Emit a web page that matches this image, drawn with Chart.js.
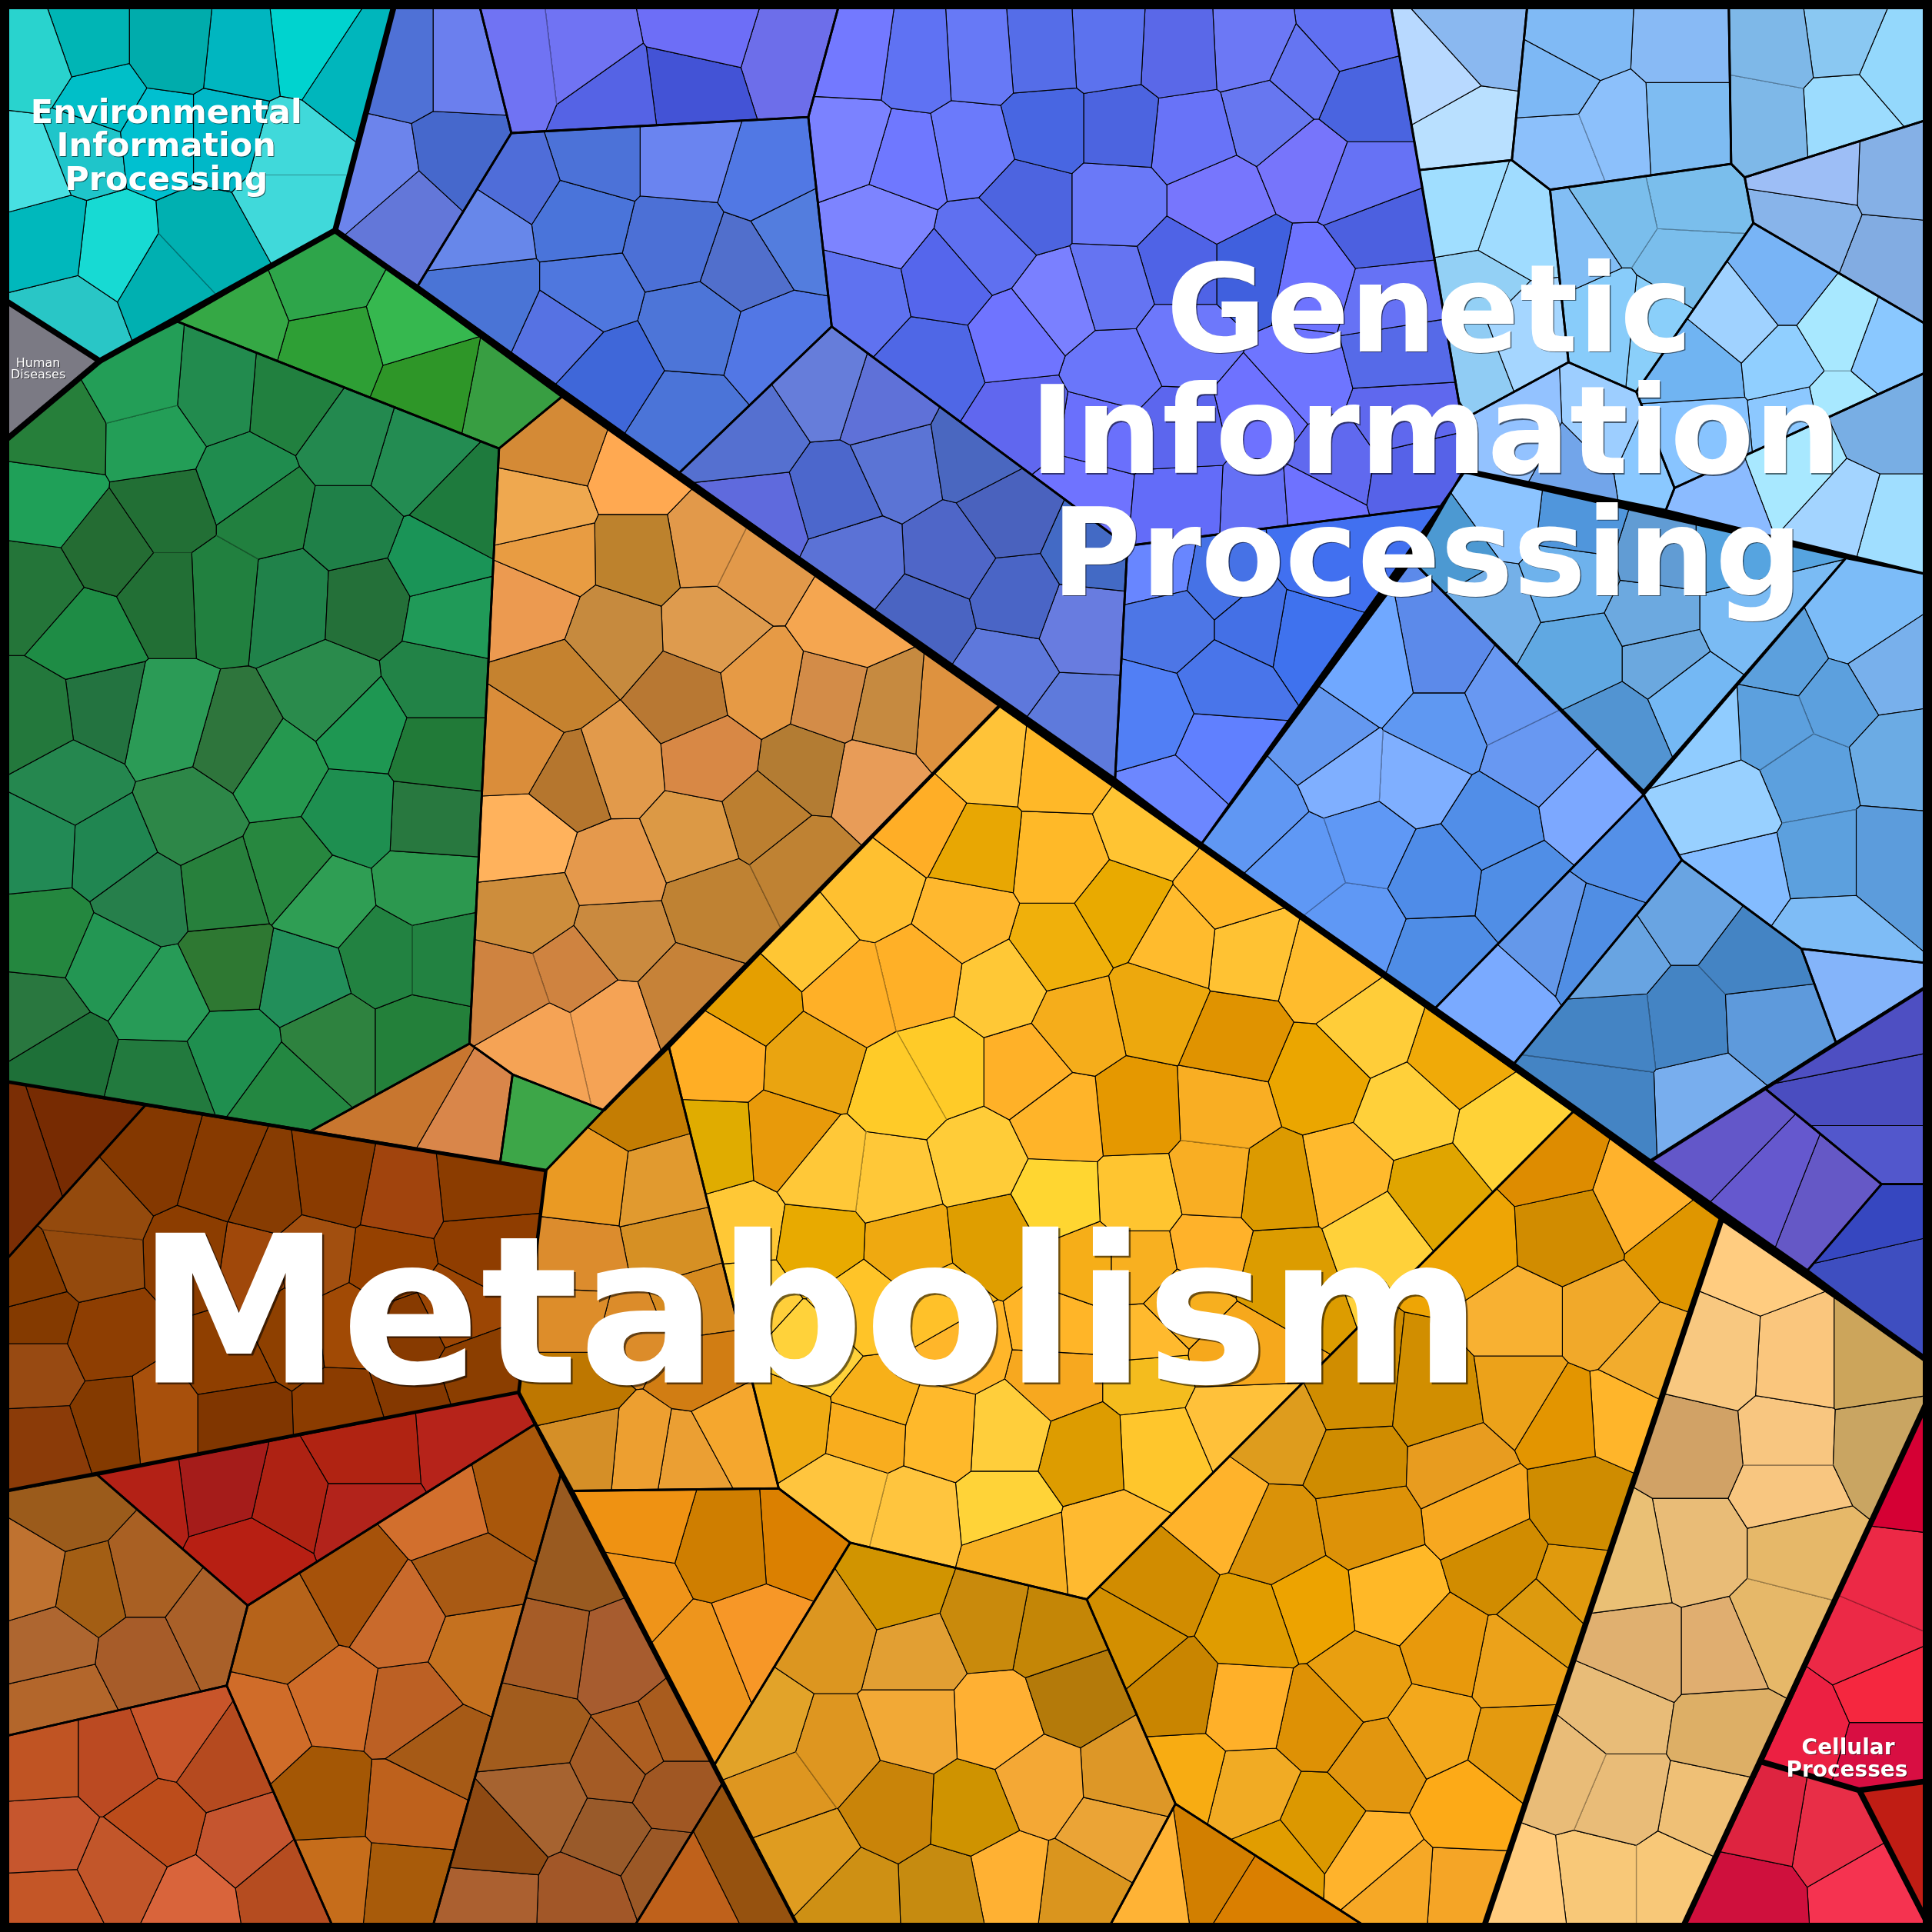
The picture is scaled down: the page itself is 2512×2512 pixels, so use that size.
<!DOCTYPE html>
<html>
<head>
<meta charset="utf-8">
<title>Voronoi treemap</title>
<script src="https://cdn.jsdelivr.net/npm/chart.js@4"></script>
<style>
  html, body { margin: 0; padding: 0; background: #000; }
  canvas { display: block; }
</style>
</head>
<body>
<canvas id="chart" width="2512" height="2512"></canvas>
<script>
// Values, on a 0..1568 axis. Each group has an outline,
// the centre of each of its cells, and one colour per cell.
const envOutline = [[0,0],[321,0],[272,187],[81,293],[0,241]]
const envSeeds = [[33,50],[70,37],[140,37],[197,43],[249,37],[284,60],[80,80],[130,110],[184,110],[234,124],[234,160],[23,134],[67,117],[40,197],[92,203],[167,197],[134,228],[55,258]]
const envColors = ['#29d3ce','#00b5b5','#00acac','#00b6c0','#00d3cf','#00b6bc','#00bfc8','#00c0d0','#00b8c8','#40d9da','#40d9da','#48e0e2','#1fc5ca','#00b8bc','#17dad3','#00b0b1','#00b0b1','#29c6c6']

const humanOutline = [[0,241],[81,293],[0,361]]
const humanSeeds = [[30,300]]
const humanColors = ['#7b7a84']

const green1Outline = [[272,187],[456,322],[405,364],[144,261]]
const green1Seeds = [[190,257],[264,227],[274,281],[334,264],[348,311],[415,324]]
const green1Colors = ['#35a845','#2ea54a','#2e9f35','#36b84f','#2e9628','#389e42']

const green2Outline = [[81,293],[144,261],[405,364],[381,847],[252,918],[0,877],[0,361]]
const green2Seeds = [[115,315],[125,355],[175,320],[235,325],[47,354],[284,360],[334,375],[375,415],[40,405],[134,415],[90,445],[134,482],[200,391],[217,415],[284,428],[354,455],[365,500],[297,488],[180,480],[234,485],[30,480],[70,515],[30,584],[84,577],[134,587],[194,604],[267,564],[294,591],[354,554],[354,611],[224,624],[288,661],[348,664],[57,634],[154,664],[30,688],[90,691],[37,758],[117,728],[181,721],[234,705],[264,731],[344,721],[90,781],[30,825],[132,811],[187,785],[244,795],[314,775],[355,775],[50,858],[130,878],[190,855],[268,845],[341,845],[231,885]]
const green2Colors = ['#239e57','#239e57','#228b4e','#21803f','#267f3a','#23894f','#238c52','#1e7a3d','#1fa058','#226f35','#246c33','#226f35','#1f8c4e','#21803f','#1f8048','#1a9457','#209a58','#247039','#21803f','#20824a','#247539','#1e8c45','#23783c','#237340','#2b9b56','#2e753c','#2a8b4c','#1e9752','#228347','#217a38','#25984f','#1e8f50','#28783f','#25874f','#2d8748','#228a55','#208651','#24873f','#267f4b','#27803c','#27873f','#2f9e54','#2c984f','#239653','#29773f','#279b57','#2e7832','#228f5a','#228241','#228241','#1e7038','#227a3e','#1f8f4f','#2e823f','#23803a','#238741']

const orange1Outline = [[456,322],[811,573],[490,901],[416,872],[381,847],[405,364]]
const orange1Seeds = [[451,361],[518,385],[440,415],[448,451],[518,450],[431,491],[497,515],[575,440],[615,460],[578,512],[690,505],[618,557],[557,567],[674,567],[721,577],[771,581],[451,557],[421,604],[468,631],[498,621],[577,614],[654,624],[708,634],[425,685],[499,708],[564,681],[621,664],[648,698],[581,731],[431,738],[502,758],[557,811],[415,805],[465,788],[438,845],[495,832]]
const orange1Colors = ['#d48a36','#ffa951','#efa84f','#e89c42','#bd822d','#ec9a50','#c68a3e','#e2994a','#e2994a','#de9b4e','#f5a650','#e69a45','#b87833','#d38c48','#c68a40','#de923f','#c5822f','#da8d3a','#b5762e','#e29a4b','#d88845','#b37c33','#e89c58','#ffb25c','#e5994c','#dc9945','#bc7f30','#bf8233','#bf8233','#cd8d3c','#ca8a3f','#c68238','#cf8340','#cf8340','#f5a355','#f5a355']

const orange2Outline = [[252,918],[381,847],[416,872],[406,943]]
const orange2Seeds = [[335,877],[387,907]]
const orange2Colors = ['#c8762f','#d9864a']

const green3Outline = [[416,872],[490,901],[443,950],[406,943]]
const green3Seeds = [[445,915]]
const green3Colors = ['#3da648']

const wedgeOutline = [[0,877],[118,897],[0,1028]]
const wedgeSeeds = [[12,935],[60,919]]
const wedgeColors = ['#7b2e05','#772b02']

const brownOutline = [[118,897],[443,950],[421,1130],[0,1211],[0,1028]]
const brownSeeds = [[124,939],[181,955],[214,969],[271,962],[324,972],[391,965],[395,1012],[77,982],[73,1022],[23,1042],[30,1069],[87,1085],[30,1112],[33,1172],[94,1152],[127,1149],[194,1149],[187,1105],[281,1146],[334,1129],[385,1112],[160,1019],[257,1019],[314,1026],[200,1025],[234,1082],[334,1082],[284,1075],[368,1065]]
const brownColors = ['#843800','#873a00','#873c02','#8a3b00','#a1440d','#8b3c00','#8f3d00','#944a0d','#944a0d','#853b00','#843a00','#8e3e02','#984a12','#8b3b08','#843a00','#a8500c','#803600','#8f3f00','#8b3c00','#843800','#8b3e00','#8c3d00','#a24f0f','#964100','#a0480a','#8e4000','#873a00','#a14a05','#9c4604']

const redOutline = [[79,1197],[420,1130],[434,1156],[201,1303]]
const redSeeds = [[110,1216],[187,1206],[231,1216],[204,1263],[294,1179],[294,1229],[385,1172]]
const redColors = ['#b32116','#a51c1a','#ae2213','#b71f13','#b02312','#b2231b','#b6231a']

const tanBrownOutline = [[0,1211],[79,1197],[201,1303],[184,1368],[0,1410]]
const tanBrownSeeds = [[57,1223],[23,1280],[74,1289],[117,1279],[171,1320],[40,1336],[117,1346],[50,1380]]
const tanBrownColors = ['#9b5b1b','#bf7230','#a35e14','#a96023','#a96029','#ae6630','#a75c29','#b3662b']

const rustOutline = [[0,1410],[184,1368],[272,1568],[0,1568]]
const rustSeeds = [[33,1430],[94,1430],[144,1410],[177,1433],[129,1480],[37,1490],[197,1497],[100,1517],[40,1547],[157,1544],[227,1533]]
const rustColors = ['#c05423','#bb4a22','#c8552a','#b54a1f','#bc4c1b','#c6562e','#c5552f','#c2562a','#c45627','#d9643b','#b54c20']

const copperOutline = [[201,1303],[434,1156],[455,1197],[350,1568],[272,1568],[184,1368]]
const copperSeeds = [[364,1229],[418,1216],[291,1293],[381,1276],[231,1326],[321,1313],[391,1340],[214,1403],[272,1380],[331,1390],[354,1423],[264,1457],[334,1463],[268,1527],[328,1533]]
const copperColors = ['#d26f2d','#a9570b','#a6520a','#a95a14','#b6631a','#c96a2c','#c5711f','#d06c29','#cf6c29','#bc6024','#a65a16','#a45705','#be611c','#c66d1b','#a85b0a']

const umberOutline = [[455,1197],[586,1448],[512,1568],[350,1568]]
const umberSeeds = [[465,1263],[448,1343],[498,1350],[435,1403],[518,1417],[441,1463],[401,1500],[501,1433],[495,1490],[544,1453],[544,1406],[537,1517],[398,1537],[475,1540]]
const umberColors = ['#995a20','#a65c27','#a75c2f','#a25c1d','#ad5e21','#a66330','#8f4a13','#a45b25','#995a2a','#a05723','#a95c1e','#9b5826','#ab6030','#a25728']

const cornerOutline = [[586,1448],[650,1568],[512,1568]]
const cornerSeeds = [[559,1534],[603,1512]]
const cornerColors = ['#bf611b','#96520f']

const amberOutline = [[543,850],[490,901],[443,950],[421,1130],[465,1210],[632,1208]]
const amberSeeds = [[515,895],[478,958],[535,965],[470,1025],[545,1010],[468,1069],[468,1126],[478,1172],[521,1176],[567,1109],[594,1162],[557,1182],[510,1080],[560,1060]]
const amberColors = ['#c47d03','#ea9a23','#e19a2f','#dc8c2d','#d69024','#dd8d2a','#be7700','#d58f27','#ed9f30','#d17d13','#f5a72e','#eb9f33','#dc8c2a','#d68a1f']

const yellowOutline = [[543,850],[811,573],[1277,902],[882,1298],[690,1252],[632,1208]]
const yellowSeeds = [[798,614],[862,621],[932,671],[748,668],[792,691],[859,698],[909,738],[999,725],[956,765],[708,721],[782,745],[859,768],[655,765],[691,805],[745,792],[812,802],[875,832],[939,818],[1013,771],[1002,845],[611,812],[584,858],[658,862],[735,885],[765,868],[832,868],[862,908],[922,902],[992,899],[985,959],[581,929],[638,925],[671,952],[725,959],[792,942],[859,975],[925,972],[805,1005],[1036,965],[665,1009],[601,999],[738,1012],[982,1015],[925,1026],[879,1026],[1079,788],[1112,835],[1182,858],[1072,875],[1142,902],[1223,919],[1092,955],[1162,969],[1119,1002],[1040,1030],[960,1060],[605,1050],[700,1060],[760,1060],[660,1100],[710,1140],[780,1095],[860,1080],[930,1090],[1000,1100],[641,1149],[705,1156],[765,1159],[815,1162],[882,1179],[939,1176],[932,1115],[858,1115],[1002,1149],[685,1219],[741,1233],[815,1226],[825,1256],[902,1250]]
const yellowColors = ['#ffc338','#ffb828','#ffc433','#ffae26','#e8a703','#ffb928','#e9aa00','#ffb728','#ffbb2d','#ffc030','#ffb82f','#f0b00b','#ffc634','#ffb027','#ffb027','#ffc836','#f5ad1b','#eda80d','#ffc233','#e09300','#e59f00','#ffae25','#eaa410','#ffcb28','#ffcb28','#ffb128','#ffb429','#e59800','#f9ae23','#f9ae23','#e0ac00','#e89a0a','#ffc838','#ffc838','#ffcc38','#ffd631','#ffc530','#df9e00','#dc9a00','#e8aa00','#ffc836','#efa910','#ffb22a','#f8b020','#f6ae18','#ffbc2d','#ffcd39','#f0aa08','#eba600','#ffd03a','#ffd237','#ffba2d','#e0a500','#ffd13a','#dc9c00','#f7af1f','#ffcf3a','#ffc428','#ffc129','#ffd23a','#f7b019','#ffb62a','#ffb528','#ffba2e','#f6a81c','#efab12','#f9ad1e','#ffb92b','#ffce3b','#dd9c00','#ffc62c','#f4bc1e','#f7a81f','#ffc13a','#ffc53e','#ffc53e','#ffd338','#f7b023','#ffba30']

const goldOutline = [[882,1298],[1277,902],[1397,990],[1203,1568],[1115,1568],[954,1464]]
const goldSeeds = [[1256,942],[1336,969],[1269,1002],[1370,1012],[1192,1006],[1236,1072],[1300,1072],[1336,1105],[1236,1129],[1269,1149],[1316,1146],[1166,1139],[1099,1132],[1182,1189],[1102,1186],[1283,1222],[1109,1236],[1199,1226],[1219,1269],[1276,1289],[1040,1160],[942,1289],[992,1229],[1036,1249],[919,1330],[1016,1320],[955,1373],[1012,1383],[959,1443],[1016,1457],[1036,1507],[1065,1303],[1129,1296],[1176,1340],[1256,1310],[1226,1350],[1106,1363],[1162,1403],[1229,1420],[1072,1396],[1119,1430],[1192,1467],[1069,1480],[1115,1510],[1132,1530],[1189,1534]]
const goldColors = ['#de8c00','#ffb22c','#d18c00','#df9600','#eea505','#f8b132','#f1a92a','#f2ac2d','#eca21a','#e39500','#ffb52a','#d18e00','#d08d00','#e89c1f','#cf8c00','#cf8c00','#dd9208','#f7a820','#d18c00','#e09a0d','#de9c1d','#d18c00','#ffb32b','#da9208','#d38f00','#e09c00','#c98500','#ffb029','#f8ac12','#f1ab24','#e19d00','#eda300','#ffb827','#e8990c','#dd9a0e','#eca21a','#e99f10','#f3a81c','#e49a0f','#de9105','#e2960f','#fdaa17','#dc9800','#ffb32c','#f6a826','#f5a526']

const flameOutline = [[954,1464],[1115,1568],[898,1568]]
const flameSeeds = [[939,1530],[982,1524],[1019,1547]]
const flameColors = ['#ffb335','#d27f00','#da7f00']

const ochreOutline = [[690,1252],[882,1298],[954,1464],[898,1568],[650,1568],[580,1432]]
const ochreSeeds = [[728,1290],[802,1316],[855,1326],[675,1326],[742,1343],[872,1376],[742,1400],[809,1397],[621,1406],[675,1423],[638,1450],[725,1467],[788,1470],[845,1447],[912,1443],[902,1487],[658,1507],[692,1540],[768,1537],[818,1527],[875,1534]]
const ochreColors = ['#d19400','#c98a0c','#c48606','#dc9620','#e29f33','#b47a0a','#f2a936','#ffb033','#e2a329','#de9620','#de9620','#c98409','#cf9300','#f4a835','#dd9727','#eba436','#df9c20','#ce9014','#c68b10','#ffb133','#da951e']

const tangerineOutline = [[465,1210],[632,1208],[690,1252],[580,1432]]
const tangerineSeeds = [[520,1232],[591,1253],[648,1249],[510,1295],[618,1330],[568,1350]]
const tangerineColors = ['#ef9212','#cf7e00','#db8000','#ef9419','#f79727','#ee951c']

const sandOutline = [[1397,990],[1568,1107],[1568,1129],[1364,1568],[1203,1568]]
const sandSeeds = [[1427,1019],[1393,1102],[1460,1106],[1517,1106],[1376,1176],[1527,1172],[1450,1169],[1450,1209],[1323,1266],[1376,1256],[1460,1256],[1443,1323],[1333,1343],[1396,1343],[1400,1403],[1313,1390],[1273,1440],[1313,1457],[1386,1470],[1239,1534],[1296,1527],[1360,1527]]
const sandColors = ['#ffcc80','#f8c880','#fac67d','#cca55b','#d1a266','#c9a562','#f8c680','#f8c680','#eac075','#e9bc77','#e6b869','#e6b869','#e0b070','#e0ae70','#ddaf66','#e8bc78','#e9bc78','#e9bc78','#efc076','#ffcc7e','#f8c878','#f8c878']

const cell1Outline = [[1568,1129],[1568,1445],[1509,1453],[1430,1430]]
const cell1Seeds = [[1544,1199],[1534,1283],[1513,1333],[1530,1373],[1463,1403],[1530,1423]]
const cell1Colors = ['#d50034','#ec2946','#ec2946','#f5273f','#ec2042','#d80e42']

const cell2Outline = [[1430,1430],[1509,1453],[1568,1568],[1364,1568]]
const cell2Seeds = [[1430,1477],[1490,1487],[1417,1540],[1517,1534]]
const cell2Colors = ['#de2440','#e82e47','#cf103d','#f53350']

const cell3Outline = [[1509,1453],[1568,1445],[1568,1568]]
const cell3Seeds = [[1535,1500]]
const cell3Colors = ['#c01d14']

const slateOutline = [[321,0],[388,0],[415,108],[339,232],[272,187]]
const slateSeeds = [[328,53],[375,53],[371,130],[308,140],[334,170]]
const slateColors = ['#4f71d6','#6b7fee','#4668cc','#6c84ec','#6377d9']

const violetOutline = [[388,0],[682,0],[656,95],[415,108]]
const violetSeeds = [[422,48],[472,42],[499,80],[571,22],[560,72],[645,45]]
const violetColors = ['#7073f3','#7073f3','#5563e5','#6d6ef7','#4353d6','#6d6eea']

const royalOutline = [[415,108],[656,95],[675,265],[551,384],[339,232]]
const royalSeeds = [[421,147],[482,127],[395,187],[468,177],[475,241],[401,241],[458,267],[557,127],[624,147],[551,197],[601,214],[644,187],[495,301],[564,264],[628,281],[558,341]]
const royalColors = ['#4f6dd9','#4c72d8','#6787ea','#4a74da','#4f77de','#4a74d6','#5672e3','#6a84f0','#5178e4','#4c70d6','#516fcc','#537dde','#3f67d9','#4d75d8','#5277e5','#4b74d8']

const purpleOutline = [[682,0],[1128,0],[1184,326],[1190,381],[1169,411],[915,443],[675,265],[656,95]]
const purpleSeeds = [[695,43],[745,50],[795,47],[845,43],[899,40],[956,43],[1016,40],[1092,30],[1059,60],[1105,80],[691,117],[735,130],[788,120],[850,104],[909,104],[966,110],[1029,94],[1062,134],[1105,150],[715,184],[798,201],[835,164],[905,164],[989,164],[1119,187],[768,227],[701,241],[859,247],[902,234],[959,217],[1016,217],[825,274],[758,294],[905,301],[832,341],[959,277],[1065,227],[1125,244],[1132,288],[1055,308],[1135,338],[1146,385],[1082,375],[1065,408],[892,351],[956,351],[1026,334],[959,408],[879,401],[1023,411]]
const purpleColors = ['#7379ff','#5f72f3','#6779f6','#556de8','#5c72ee','#5a68e8','#6c78f5','#6070f2','#6575f2','#4a64e0','#7b82ff','#6f78ff','#6b7afb','#4866e2','#4c64e0','#6873f8','#6777f0','#7775fb','#6672f5','#7d84ff','#5f70f0','#4d64e0','#6a79f8','#7776fd','#4c60e0','#5566ec','#5f72f0','#7a80ff','#6574f2','#4f63e6','#4060de','#6f74ff','#4f67e6','#6a76fa','#6067ef','#6d78fb','#6e74ff','#6672f5','#566ae8','#6e75ff','#5f68ee','#5662e8','#6069ef','#6e72ff','#6a70fc','#5c66ee','#6e72ff','#636cf9','#6f73ff','#6570f5']

const steelOutline = [[551,384],[675,265],[915,443],[905,632]]
const steelSeeds = [[671,314],[715,328],[611,354],[792,368],[728,378],[618,418],[678,401],[818,418],[695,455],[772,451],[825,485],[885,448],[752,502],[815,544],[879,505],[875,588]]
const steelColors = ['#667dda','#5f71d8','#5570d0','#4a67c0','#5b74d5','#5f6add','#4c67cc','#4a62be','#5b72d6','#4f66c8','#4a65c6','#436ac5','#4a64c2','#5e78dc','#687ce0','#5e7adc']

const azureOutline = [[915,443],[1169,411],[975,685],[905,632]]
const azureSeeds = [[932,581],[996,554],[992,608],[952,651],[952,505],[1019,505],[1075,458],[1059,512],[990,470],[942,461]]
const azureColors = ['#517ff5','#4975ea','#6080ff','#6c87ff','#4d76e6','#4470e6','#4170f0','#3f72ee','#4672e6','#6886ff']

const skyAOutline = [[1128,0],[1240,0],[1227,130],[1152,138]]
const skyASeeds = [[1166,63],[1199,33],[1189,104]]
const skyAColors = ['#b8d9ff','#8ab8f0','#b9e0ff']

const skyBOutline = [[1240,0],[1403,0],[1405,133],[1258,154],[1227,130]]
const skyBSeeds = [[1263,70],[1283,33],[1366,37],[1309,100],[1266,117],[1366,97]]
const skyBColors = ['#7db8f5','#80baf5','#88baf5','#8cc0fb','#8cc0fb','#7ebcf2']

const skyCOutline = [[1403,0],[1568,0],[1568,96],[1416,144],[1405,133]]
const skyCSeeds = [[1443,40],[1433,94],[1493,33],[1540,53],[1497,90]]
const skyCColors = ['#7eb8e8','#7eb8e8','#8ac8f2','#94d8fc','#9cdcfe']

const skyDOutline = [[1416,144],[1568,96],[1568,266],[1423,181]]
const skyDSeeds = [[1470,137],[1547,140],[1463,184],[1540,214]]
const skyDColors = ['#9dbef6','#85b0e6','#88b4ea','#82ace2']

const skyEOutline = [[1152,138],[1227,130],[1258,154],[1273,294],[1192,338],[1184,326]]
const skyESeeds = [[1189,174],[1226,187],[1199,234],[1236,271],[1192,288]]
const skyEColors = ['#a0deff','#a0dcff','#93d0f5','#a5d6ff','#90ccf4']

const skyFOutline = [[1258,154],[1405,133],[1416,144],[1423,181],[1328,318],[1273,294]]
const skyFSeeds = [[1279,194],[1309,174],[1373,160],[1370,214],[1309,261],[1340,264]]
const skyFColors = ['#82bef5','#7abeec','#7abeec','#7abeec','#88ccfa','#8acffa']

const skyGOutline = [[1423,181],[1568,266],[1568,300],[1359,396],[1328,318]]
const skyGSeeds = [[1447,234],[1490,268],[1413,261],[1533,284],[1447,294],[1380,301],[1383,348],[1457,341],[1490,334]]
const skyGColors = ['#78b4f6','#a8e8ff','#a0d2ff','#8ac8ff','#90cfff','#70b4f2','#88c4ff','#8cc8ff','#a8e8ff']

const skyHOutline = [[1190,381],[1192,338],[1273,294],[1328,318],[1359,396],[1352,414]]
const skyHSeeds = [[1233,354],[1303,351],[1276,378],[1340,368]]
const skyHColors = ['#93c2ff','#9dceff','#72a5ea','#8ac8ff']

const skyIOutline = [[1359,396],[1568,300],[1568,467],[1352,414]]
const skyISeeds = [[1393,401],[1453,378],[1533,341],[1497,418],[1533,428]]
const skyIColors = ['#8bbbff','#a8e8ff','#78aee4','#a3d4ff','#a0deff']

const oceanOutline = [[1187,383],[1498,453],[1334,642],[1146,455]]
const oceanSeeds = [[1182,445],[1219,418],[1279,425],[1350,448],[1403,448],[1273,468],[1209,492],[1343,502],[1416,502],[1283,534],[1310,591],[1350,534],[1373,564]]
const oceanColors = ['#4c99d2','#8cc4ff','#5096dc','#619cd4','#56a4e0','#6eb2ec','#74b0e8','#6ca9e0','#7abbf4','#60a8e2','#5294d2','#6ba8df','#74b8f4']

const cobaltOutline = [[1146,455],[1334,645],[1165,818],[975,685]]
const cobaltSeeds = [[1116,544],[1075,604],[1092,628],[1149,631],[1169,591],[1223,568],[1246,615],[1289,658],[1212,671],[1166,711],[1236,721],[1109,684],[1059,701],[1099,752],[1169,778],[1020,660],[1169,534]]
const cobaltColors = ['#70a8ff','#6498f0','#7fafff','#7fafff','#5f98f2','#6898f2','#6898f2','#7ca8ff','#518ee8','#4f8ce8','#508ee6','#5f98f5','#5f98f5','#5f98f5','#4f8de6','#6097f3','#5c8aea']

const stripOutline = [[1334,645],[1365,698],[1229,863],[1165,818]]
const stripSeeds = [[1316,681],[1263,755],[1289,762],[1209,815]]
const stripColors = ['#5490e8','#6498ea','#508ee4','#7aaaff']

const deepOutline = [[1365,698],[1462,770],[1490,846],[1340,942],[1229,863]]
const deepSeeds = [[1370,735],[1306,778],[1427,778],[1433,829],[1310,839],[1370,832],[1303,892],[1383,889]]
const deepColors = ['#69a4e2','#68a4e2','#4484c4','#5e9adc','#4484c4','#4484c4','#4484c4','#78aeee']

const paleOutline = [[1498,453],[1568,467],[1568,782],[1462,770],[1365,698],[1334,645]]
const paleSeeds = [[1383,591],[1403,655],[1416,711],[1483,758],[1480,698],[1533,698],[1440,588],[1490,568],[1467,628],[1540,614],[1530,544],[1507,509],[1450,536]]
const paleColors = ['#90ccff','#98d0ff','#84bcff','#7ebcf6','#5ca0de','#5c9cdc','#5ca0de','#5ca0de','#5ca0de','#6babe4','#78b0ec','#7cbcf8','#5ca0dd']

const patchOutline = [[1462,770],[1568,782],[1568,798],[1490,846]]
const patchSeeds = [[1510,805]]
const patchColors = ['#84b4fa']

const indigoAOutline = [[1340,942],[1432,883],[1527,961],[1467,1031]]
const indigoASeeds = [[1403,926],[1437,959],[1480,976]]
const indigoAColors = ['#6357c9','#6558ce','#6558c6']

const indigoBOutline = [[1432,883],[1568,798],[1568,961],[1527,961]]
const indigoBSeeds = [[1497,842],[1507,892],[1507,935]]
const indigoBColors = ['#4e4fc2','#4a4dc0','#5257cc']

const indigoCOutline = [[1527,961],[1568,961],[1568,1107],[1467,1031]]
const indigoCSeeds = [[1517,992],[1527,1036]]
const indigoCColors = ['#3647c0','#3e4ec0']

// heavier lines drawn over the group outlines
const frameLine = [[0,0],[1568,0],[1568,1568],[0,1568],[0,0]]
const heavyLines = [
  [[321,0],[272,187],[81,293],[0,241]],
  [[81,293],[0,361]],
  [[272,187],[1568,1107]],
  [[1397,990],[1203,1568]],
  [[1568,1129],[1364,1568]],
  [[1430,1430],[1509,1453],[1568,1445]],
  [[1509,1453],[1568,1568]]
]
const mediumLines = [
  [[0,877],[443,950],[421,1130],[0,1211]],
  [[421,1130],[650,1568]],
  [[1340,942],[1568,798]],
  [[490,901],[811,573]]
]

const labelLines = [
  { text: 'Metabolism', x: 657, y: 1122, size: 267 },
  { text: 'Genetic', x: 1160, y: 285, size: 159 },
  { text: 'Information', x: 1165, y: 384, size: 159 },
  { text: 'Processing', x: 1158, y: 483, size: 159 },
  { text: 'Environmental', x: 135, y: 100, size: 43 },
  { text: 'Information', x: 135, y: 127, size: 43 },
  { text: 'Processing', x: 135, y: 154, size: 43 },
  { text: 'Cellular', x: 1500, y: 1424, size: 28 },
  { text: 'Processes', x: 1499, y: 1442, size: 28 },
  { text: 'Human', x: 31, y: 298, size: 16, weight: 'normal' },
  { text: 'Diseases', x: 31, y: 307, size: 16, weight: 'normal' }
]

const groups = [
  [envOutline, envSeeds, envColors], [humanOutline, humanSeeds, humanColors],
  [green1Outline, green1Seeds, green1Colors], [green2Outline, green2Seeds, green2Colors],
  [orange1Outline, orange1Seeds, orange1Colors], [orange2Outline, orange2Seeds, orange2Colors],
  [green3Outline, green3Seeds, green3Colors], [wedgeOutline, wedgeSeeds, wedgeColors],
  [brownOutline, brownSeeds, brownColors], [redOutline, redSeeds, redColors],
  [tanBrownOutline, tanBrownSeeds, tanBrownColors], [rustOutline, rustSeeds, rustColors],
  [copperOutline, copperSeeds, copperColors], [umberOutline, umberSeeds, umberColors],
  [cornerOutline, cornerSeeds, cornerColors], [amberOutline, amberSeeds, amberColors],
  [yellowOutline, yellowSeeds, yellowColors], [goldOutline, goldSeeds, goldColors],
  [flameOutline, flameSeeds, flameColors], [ochreOutline, ochreSeeds, ochreColors],
  [tangerineOutline, tangerineSeeds, tangerineColors], [sandOutline, sandSeeds, sandColors],
  [cell1Outline, cell1Seeds, cell1Colors], [cell2Outline, cell2Seeds, cell2Colors],
  [cell3Outline, cell3Seeds, cell3Colors], [slateOutline, slateSeeds, slateColors],
  [violetOutline, violetSeeds, violetColors], [royalOutline, royalSeeds, royalColors],
  [purpleOutline, purpleSeeds, purpleColors], [steelOutline, steelSeeds, steelColors],
  [azureOutline, azureSeeds, azureColors], [skyAOutline, skyASeeds, skyAColors],
  [skyBOutline, skyBSeeds, skyBColors], [skyCOutline, skyCSeeds, skyCColors],
  [skyDOutline, skyDSeeds, skyDColors], [skyEOutline, skyESeeds, skyEColors],
  [skyFOutline, skyFSeeds, skyFColors], [skyGOutline, skyGSeeds, skyGColors],
  [skyHOutline, skyHSeeds, skyHColors], [skyIOutline, skyISeeds, skyIColors],
  [oceanOutline, oceanSeeds, oceanColors], [cobaltOutline, cobaltSeeds, cobaltColors],
  [stripOutline, stripSeeds, stripColors], [deepOutline, deepSeeds, deepColors],
  [paleOutline, paleSeeds, paleColors], [patchOutline, patchSeeds, patchColors],
  [indigoAOutline, indigoASeeds, indigoAColors], [indigoBOutline, indigoBSeeds, indigoBColors],
  [indigoCOutline, indigoCSeeds, indigoCColors]
]

// Cut the group outline down to the part nearer this seed than any other
function cellPolygon(outline, seeds, i) {
  let poly = outline
  const [sx, sy] = seeds[i]
  seeds.forEach(([ox, oy], j) => {
    if (j === i) return
    const mx = (sx + ox) / 2, my = (sy + oy) / 2
    const nx = ox - sx, ny = oy - sy
    const side = p => (p[0] - mx) * nx + (p[1] - my) * ny
    const out = []
    poly.forEach((p, k) => {
      const q = poly[(k + 1) % poly.length]
      const a = side(p), b = side(q)
      if (a <= 0) out.push(p)
      if ((a < 0 && b > 0) || (a > 0 && b < 0)) {
        const t = a / (a - b)
        out.push([p[0] + (q[0] - p[0]) * t, p[1] + (q[1] - p[1]) * t])
      }
    })
    poly = out
  })
  return poly
}

// The edge two cells share, if they touch
function sharedEdge(polyA, a, b) {
  const nx = b[0] - a[0], ny = b[1] - a[1]
  const mx = (a[0] + b[0]) / 2, my = (a[1] + b[1]) / 2
  const len = Math.hypot(nx, ny)
  return polyA.filter(p => Math.abs((p[0] - mx) * nx + (p[1] - my) * ny) / len < 1e-6)
}

const toPoints = (poly, close) => {
  const pts = poly.map(p => ({ x: p[0], y: p[1] }))
  if (close) pts.push(pts[0])
  return pts
}

const addLine = (line, width, order, color) => datasets.push({
  data: toPoints(line, false), showLine: true, fill: false,
  borderColor: color || '#000000', borderWidth: width,
  pointRadius: 0, order
})

const datasets = []
groups.forEach(([outline, seeds, colors]) => {
  const polys = seeds.map((s, i) => cellPolygon(outline, seeds, i))
  polys.forEach((poly, i) => {
    datasets.push({
      data: toPoints(poly, true),
      showLine: true, fill: 'shape',
      backgroundColor: colors[i] || '#888888',
      borderColor: '#000000', borderWidth: 1.15,
      borderJoinStyle: 'miter', pointRadius: 0, order: 4
    })
  })
  // cells of one colour are split by a faint line only
  polys.forEach((poly, i) => {
    for (let j = i + 1; j < polys.length; j++) {
      if (colors[i] !== colors[j]) continue
      const edge = sharedEdge(poly, seeds[i], seeds[j])
      if (edge.length === 2) addLine(edge, 2, 3, colors[i] + 'a8')
    }
  })
  datasets.push({
    data: toPoints(outline, true), showLine: true, fill: false,
    borderColor: '#000000', borderWidth: 2.8, pointRadius: 0, order: 2
  })
})
mediumLines.forEach(l => addLine(l, 4.5, 1))
heavyLines.forEach(l => addLine(l, 7.5, 0))
addLine(frameLine, 24, -1)

const labelPlugin = {
  id: 'labels',
  afterDraw(chart) {
    const { ctx, scales } = chart
    ctx.save()
    ctx.textAlign = 'center'
    ctx.textBaseline = 'alphabetic'
    labelLines.forEach(l => {
      ctx.font = (l.weight || 'bold') + ' ' + l.size + 'px "DejaVu Sans"'
      const off = Math.max(1, l.size / 110)
      ctx.shadowColor = 'rgba(0,0,0,0.55)'
      ctx.shadowOffsetX = off
      ctx.shadowOffsetY = off
      ctx.shadowBlur = 0
      ctx.fillStyle = '#ffffff'
      ctx.fillText(l.text, scales.x.getPixelForValue(l.x), scales.y.getPixelForValue(l.y))
    })
    ctx.restore()
  }
}

new Chart(document.getElementById('chart'), {
  type: 'scatter',
  data: { datasets },
  plugins: [labelPlugin],
  options: {
    responsive: false,
    animation: false,
    devicePixelRatio: 1,
    layout: { padding: 0 },
    elements: { line: { tension: 0 } },
    plugins: { legend: { display: false }, tooltip: { enabled: false } },
    scales: {
      x: { type: 'linear', min: 0, max: 1568, display: false },
      y: { type: 'linear', min: 0, max: 1568, reverse: true, display: false }
    }
  }
})
</script>
</body>
</html>
